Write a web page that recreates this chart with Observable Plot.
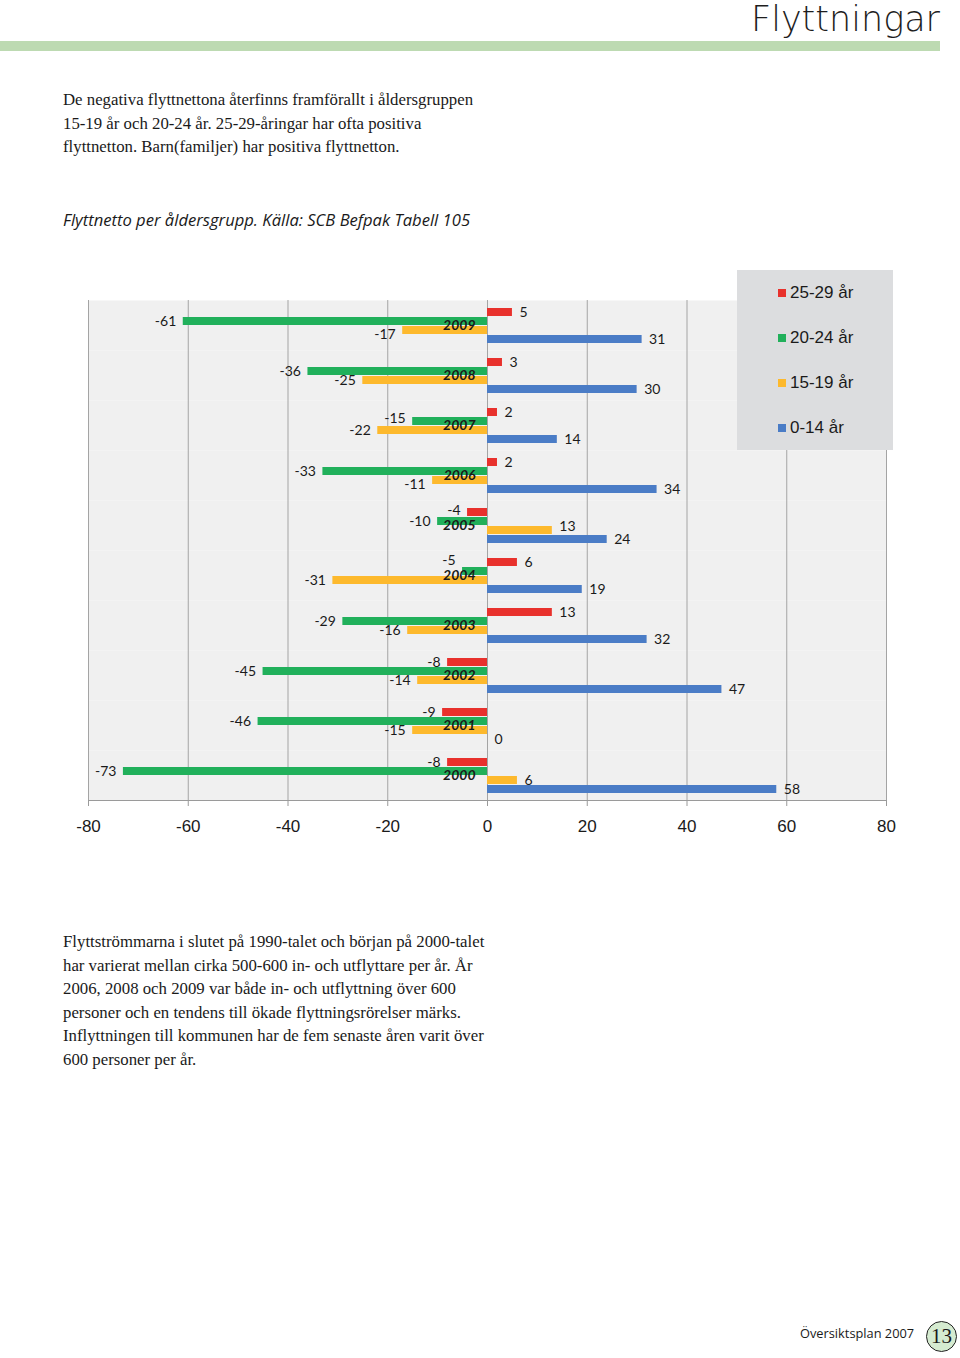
<!DOCTYPE html>
<html>
<head>
<meta charset="utf-8">
<script src="https://cdn.jsdelivr.net/npm/d3@7"></script>
<script src="https://cdn.jsdelivr.net/npm/@observablehq/plot@0.6"></script>
<style>
  html, body { margin: 0; padding: 0; background: #fff; }
  #page { position: relative; width: 960px; height: 1358px; overflow: hidden; background: #fff; color: #1a1a1a; }
  #title { position: absolute; right: 20px; top: 2px; font-family: "DejaVu Sans", sans-serif; font-weight: 200; font-size: 35px; line-height: 35px; color: #1e1e1e; white-space: nowrap; }
  #band { position: absolute; left: 0; top: 41px; width: 940px; height: 10px; background: #bddab2; }
  .para { position: absolute; left: 63px; font-family: "Liberation Serif", "Times New Roman", serif; font-size: 16.8px; line-height: 23.5px; color: #1a1a1a; white-space: nowrap; }
  #p1 { top: 88px; }
  #p2 { top: 930px; line-height: 23.6px; }
  #caption { position: absolute; left: 63px; top: 208px; font-family: "Open Sans", sans-serif; font-style: italic; font-size: 16.6px; color: #1a1a1a; white-space: nowrap; }
  #chart { position: absolute; left: 0; top: 270px; }
  #legend { position: absolute; left: 737px; top: 270px; width: 156px; height: 180px; background: #dcdddf; font-family: "Liberation Sans", Arial, sans-serif; font-size: 17px; color: #1a1a1a; }
  .li { position: absolute; left: 41px; height: 20px; display: flex; align-items: center; }
  .sw { width: 8px; height: 8px; margin-right: 4px; }
  #footer { position: absolute; left: 800px; top: 1324px; font-family: "Open Sans", sans-serif; font-size: 12.8px; color: #1a1a1a; white-space: nowrap; }
  #pageno { position: absolute; left: 926px; top: 1321px; width: 29px; height: 29px; border: 1.5px solid #222; border-radius: 50%; background: #d5ebd0; font-family: "Liberation Serif", serif; font-size: 21px; text-align: center; line-height: 29px; color: #1a1a1a; }
</style>
</head>
<body>
<div id="page">
  <div id="title">Flyttningar</div>
  <div id="band"></div>
  <div class="para" id="p1">De negativa flyttnettona återfinns framförallt i åldersgruppen<br>15-19 år och 20-24 år. 25-29-åringar har ofta positiva<br>flyttnetton. Barn(familjer) har positiva flyttnetton.</div>
  <div id="caption">Flyttnetto per åldersgrupp. Källa: SCB Befpak Tabell 105</div>
  <div id="chart"></div>
  <div id="legend"></div>
  <div class="para" id="p2">Flyttströmmarna i slutet på 1990-talet och början på 2000-talet<br>har varierat mellan cirka 500-600 in- och utflyttare per år. År<br>2006, 2008 och 2009 var både in- och utflyttning över 600<br>personer och en tendens till ökade flyttningsrörelser märks.<br>Inflyttningen till kommunen har de fem senaste åren varit över<br>600 personer per år.</div>
  <div id="footer">Översiktsplan 2007</div>
  <div id="pageno">13</div>
</div>
<script>
// ---- data ----
const years = ["2009", "2008", "2007", "2006", "2005", "2004", "2003", "2002", "2001", "2000"];
const seriesNames = ["25-29 år", "20-24 år", "15-19 år", "0-14 år"];
const v25_29 = [5, 3, 2, 2, -4, 6, 13, -8, -9, -8];
const v20_24 = [-61, -36, -15, -33, -10, -5, -29, -45, -46, -73];
const v15_19 = [-17, -25, -22, -11, 13, -31, -16, -14, -15, 6];
const v0_14 = [31, 30, 14, 34, 24, 19, 32, 47, 0, 58];
const xTicks = [-80, -60, -40, -20, 0, 20, 40, 60, 80];
const colors = ["#e8312c", "#21b05b", "#fdb92d", "#4a7cc6"];

// label nudges (style only, px) as placed in the original chart
const labelNudge = {
  "2009|15-19 år": 4, "2007|20-24 år": -3, "2006|15-19 år": 4,
  "2005|25-29 år": -2, "2005|15-19 år": -4, "2004|20-24 år": -11
};

const seriesValues = [v25_29, v20_24, v15_19, v0_14];
const rows = years.flatMap((year, i) =>
  seriesNames.map((s, j) => ({year, series: s, value: seriesValues[j][i]}))
);

// ---- layout ----
const W = 960, H = 578;
const mTop = 27, mBottom = 45, mLeft = 88, mRight = 74;
const bandHalf = (H - mTop - mBottom) / years.length / 2;
const labelFont = "Lato, 'Open Sans', sans-serif";

function labelMarks(data, anchor, dx) {
  // group labels by nudge so dy stays a constant per mark
  const groups = d3.group(data, d => labelNudge[d.year + "|" + d.series] || 0);
  return Array.from(groups, ([dy, g]) => Plot.text(g, {
    fy: "year", y: "series", x: "value", text: d => String(d.value),
    textAnchor: anchor, dx, dy, fontSize: 14, fontFamily: labelFont, fill: "#1a1a1a"
  }));
}

const chart = Plot.plot({
  width: W,
  height: H,
  marginTop: mTop,
  marginBottom: mBottom,
  marginLeft: mLeft,
  marginRight: mRight,
  style: {background: "transparent", color: "#1a1a1a"},
  x: {domain: [-80, 80], axis: null},
  y: {domain: seriesNames, paddingInner: 0.13, paddingOuter: 0.64, axis: null},
  fy: {domain: years, padding: 0, axis: null},
  color: {domain: seriesNames, range: colors},
  marks: [
    Plot.frame({fill: "#f0f0f0", stroke: null}),
    Plot.ruleX(xTicks, {stroke: "#a4a4a4", strokeWidth: 1}),
    Plot.barX(rows, {fy: "year", y: "series", x1: 0, x2: "value", fill: "series"}),
    // category tick marks on the vertical axis
    Plot.ruleY(years, {fy: d => d, x1: -1, x2: 0, dy: -bandHalf, stroke: "#9a9a9a"}),
    Plot.ruleY(years, {fy: d => d, x1: -1, x2: 0, dy: bandHalf, stroke: "#9a9a9a", facetAnchor: "bottom"}),
    // bottom axis line
    Plot.frame({anchor: "bottom", stroke: "#9a9a9a", facetAnchor: "bottom"}),
    Plot.axisX({
      ticks: xTicks, tickSize: 6, tickPadding: 13, stroke: "#9a9a9a",
      fontSize: 17, fontFamily: "'Liberation Sans', Arial, sans-serif", fill: "#1a1a1a",
      tickFormat: d => String(d), label: null
    }),
    // value labels
    ...labelMarks(rows.filter(d => d.value >= 0), "start", 7),
    ...labelMarks(rows.filter(d => d.value < 0), "end", -7),
    // year labels
    Plot.text(years, {
      fy: d => d, x: 0, text: d => d, textAnchor: "end", dx: -12,
      fontWeight: "bold", fontStyle: "italic", fontSize: 14, fontFamily: labelFont, fill: "#1a1a1a"
    })
  ]
});
document.getElementById("chart").appendChild(chart);

// legend
const legend = document.getElementById("legend");
seriesNames.forEach((s, i) => {
  const item = document.createElement("div");
  item.className = "li";
  item.style.top = (13 + i * 45) + "px";
  const sw = document.createElement("span");
  sw.className = "sw";
  sw.style.background = colors[i];
  const t = document.createElement("span");
  t.textContent = s;
  item.appendChild(sw);
  item.appendChild(t);
  legend.appendChild(item);
});
</script>
</body>
</html>
